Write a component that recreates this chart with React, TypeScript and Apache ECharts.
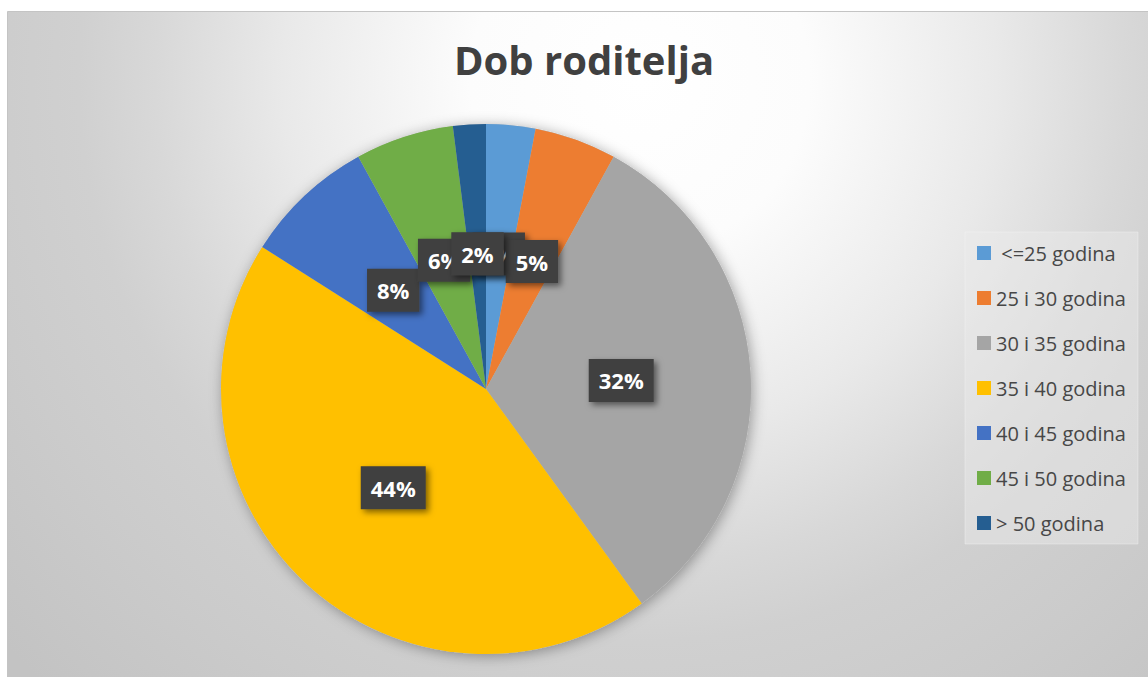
import React, { useEffect, useRef } from "react";
import * as echarts from "echarts";

const categories = [" <=25 godina", "25 i 30 godina", "30 i 35 godina", "35 i 40 godina", "40 i 45 godina", "45 i 50 godina", "> 50 godina"];
const values = [3, 5, 32, 44, 8, 6, 2];
const colors = ["#5B9BD5", "#ED7D31", "#A5A5A5", "#FFC000", "#4472C4", "#70AD47", "#255E91"];
const titleText = "Dob roditelja";

export default function App() {
  const ref = useRef<HTMLDivElement>(null);
  useEffect(() => {
    if (!ref.current) return;
    const chart = echarts.init(ref.current, undefined, { renderer: "svg" });
    const font = "'Open Sans', 'Noto Sans', sans-serif";
    chart.setOption({
      animation: false,
      backgroundColor: "#ffffff",
      title: {
        text: titleText,
        left: 579,
        textAlign: "center",
        top: 34,
        textStyle: { fontFamily: font, fontSize: 40, fontWeight: "bold", color: "#404040" },
      },
      graphic: [
        {
          type: "rect",
          z: -10,
          silent: true,
          shape: { x: 7.5, y: 11.5, width: 1150, height: 680 },
          style: {
            fill: {
              type: "radial",
              x: 640,
              y: 80,
              r: 850,
              global: true,
              colorStops: [
                { offset: 0, color: "#ffffff" },
                { offset: 0.2, color: "#fcfcfc" },
                { offset: 0.42, color: "#e9e9e9" },
                { offset: 0.57, color: "#d8d8d8" },
                { offset: 0.66, color: "#d0d0d0" },
                { offset: 0.8, color: "#cbcbcb" },
                { offset: 1, color: "#c3c3c3" },
              ],
            },
            stroke: "#c4c4c4",
            lineWidth: 1,
          },
        },
      ],
      legend: {
        orient: "vertical",
        left: 965,
        top: 232,
        padding: [11, 12, 11, 12],
        itemWidth: 14,
        itemHeight: 14,
        itemGap: 25,
        icon: "rect",
        backgroundColor: "rgba(236,236,236,0.45)",
        borderColor: "rgba(250,250,250,0.35)",
        borderWidth: 1,
        data: categories,
        textStyle: { fontFamily: font, fontSize: 20, color: "#474747", lineHeight: 20 },
      },
      series: [
        {
          type: "pie",
          z: 1,
          silent: true,
          center: [486, 389],
          radius: 265,
          label: { show: false },
          labelLine: { show: false },
          itemStyle: { color: "#bbbbbb", shadowBlur: 14, shadowColor: "rgba(0,0,0,0.35)", shadowOffsetX: 2, shadowOffsetY: 2 },
          data: [{ value: 1, name: "" }],
          legendHoverLink: false,
          tooltip: { show: false },
        },
        {
          type: "pie",
          z: 2,
          center: [486, 389],
          radius: 265,
          startAngle: 90,
          clockwise: true,
          avoidLabelOverlap: false,
          labelLayout: { hideOverlap: false },
          color: colors,
          itemStyle: { borderWidth: 0 },
          label: {
            show: true,
            position: "inside",
            formatter: (p: any) => Math.round(p.percent) + "%",
            fontFamily: font,
            fontSize: 22,
            fontWeight: "bold",
            color: "#ffffff",
            lineHeight: 23,
            backgroundColor: "#3f3f3f",
            padding: [10, 10, 10, 10],
            shadowColor: "rgba(0,0,0,0.5)",
            shadowBlur: 6,
            shadowOffsetX: 3,
            shadowOffsetY: 3,
          },
          labelLine: { show: false },
          emphasis: { disabled: true },
          data: categories.map((name, i) => ({ name, value: values[i] })),
        },
      ],
    });
    return () => chart.dispose();
  }, []);
  return <div ref={ref} style={{ position: "absolute", left: 0, top: 0, width: 1148, height: 677 }} />;
}
